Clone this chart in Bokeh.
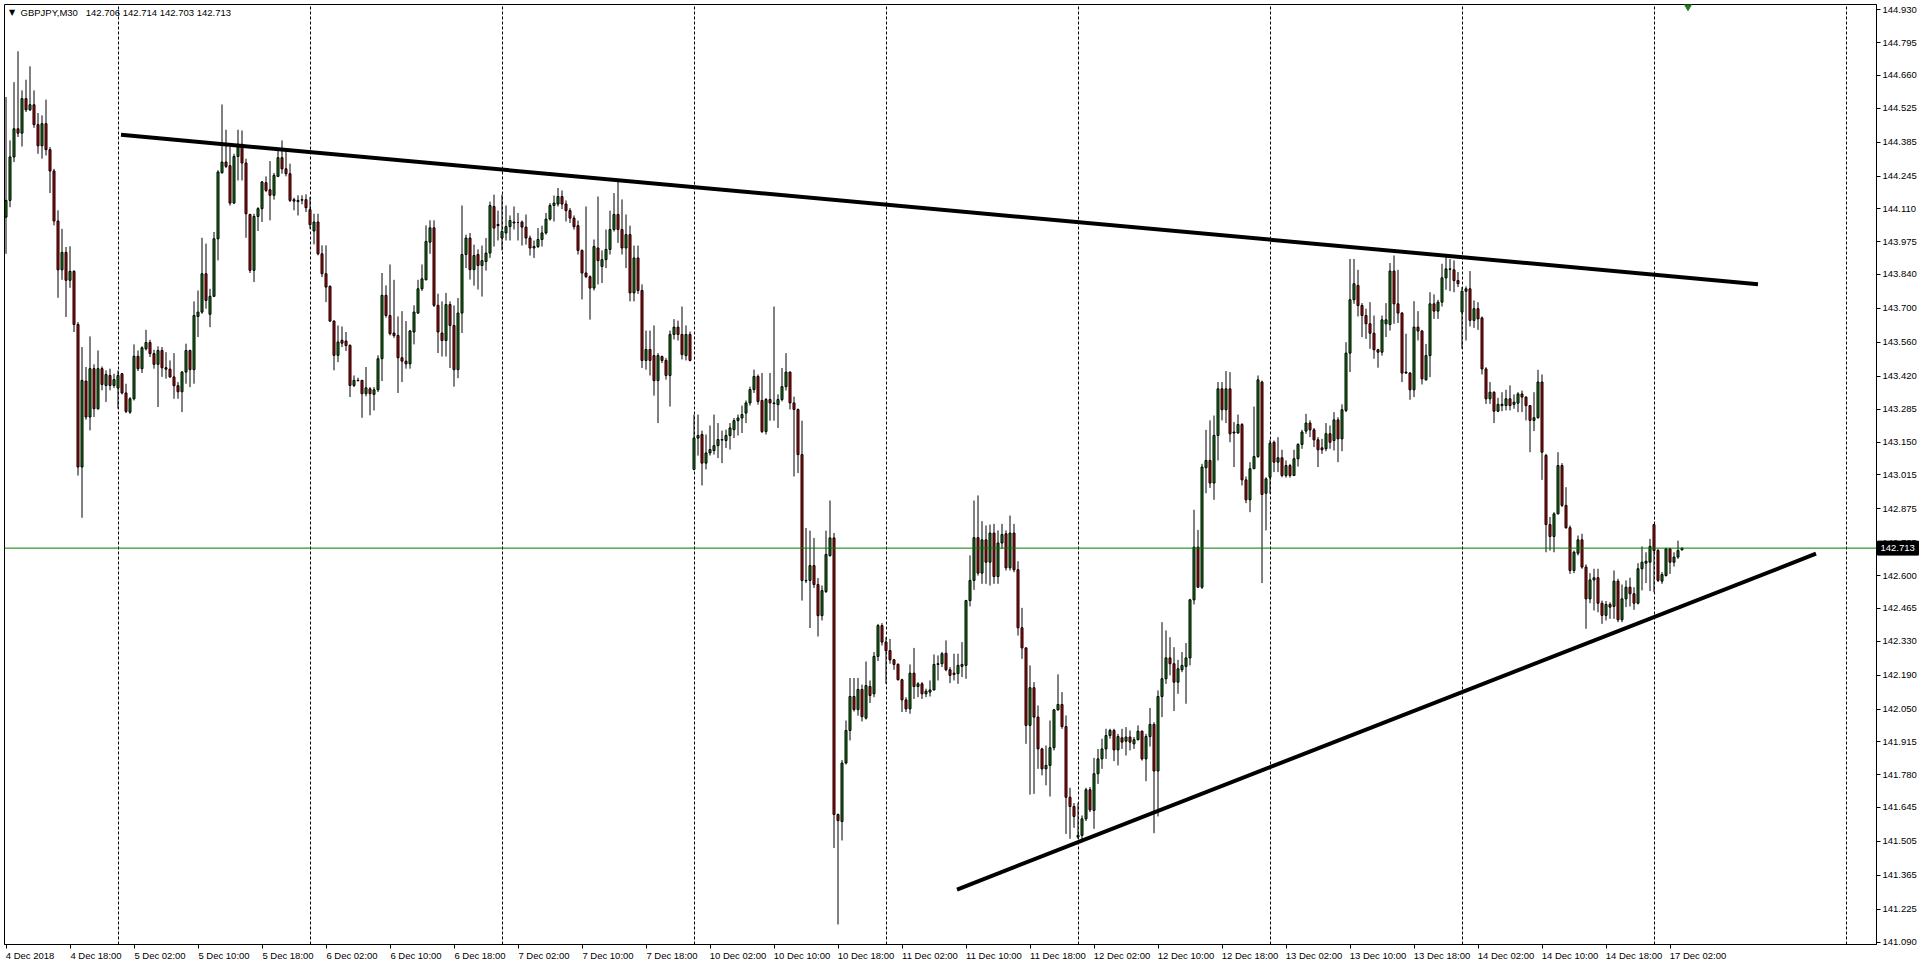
from bokeh.plotting import figure
from bokeh.models import (Range1d, FixedTicker, LinearAxis, Grid, Span, Label,
                          ColumnDataSource, PrintfTickFormatter)
from bokeh.core.properties import value
from bokeh.embed import file_html
from bokeh.resources import INLINE

# ---------------- data ----------------
symbol = "GBPJPY,M30"
last_ohlc = ["142.706", "142.714", "142.703", "142.713"]
current_price = 142.713

# each row: (open, high, low, close) ; one 30-minute bar per row
dec04 = [
    (144.076, 144.571, 143.925, 144.145), (144.145, 144.392, 144.117, 144.324),
    (144.324, 144.632, 144.303, 144.440), (144.440, 144.759, 144.406, 144.422),
    (144.422, 144.598, 144.367, 144.564), (144.564, 144.642, 144.509, 144.518),
    (144.518, 144.697, 144.513, 144.539), (144.539, 144.598, 144.444, 144.457),
    (144.457, 144.505, 144.337, 144.370), (144.370, 144.495, 144.317, 144.461),
    (144.461, 144.560, 144.330, 144.354), (144.354, 144.365, 144.175, 144.266),
    (144.266, 144.275, 144.042, 144.060), (144.060, 144.104, 143.744, 143.859),
    (143.859, 144.028, 143.818, 143.931), (143.931, 143.953, 143.665, 143.816),
    (143.816, 143.956, 143.785, 143.853), (143.853, 143.857, 143.603, 143.634),
    (143.634, 143.644, 143.012, 143.047), (143.047, 143.541, 142.838, 143.404),
    (143.401, 143.459, 143.242, 143.253), (143.253, 143.585, 143.198, 143.452),
    (143.452, 143.470, 143.253, 143.287), (143.287, 143.527, 143.283, 143.452),
    (143.452, 143.461, 143.363, 143.387), (143.383, 143.445, 143.315, 143.428),
    (143.424, 143.452, 143.363, 143.383), (143.383, 143.431, 143.373, 143.407),
]
dec05 = [
    (143.373, 143.445, 143.287, 143.424), (143.431, 143.434, 143.346, 143.352),
    (143.352, 143.390, 143.269, 143.276), (143.273, 143.335, 143.266, 143.328),
    (143.328, 143.552, 143.321, 143.503), (143.503, 143.527, 143.442, 143.452),
    (143.452, 143.544, 143.434, 143.538), (143.534, 143.612, 143.527, 143.560),
    (143.560, 143.571, 143.500, 143.514), (143.514, 143.530, 143.452, 143.470),
    (143.470, 143.544, 143.294, 143.527), (143.527, 143.541, 143.418, 143.456),
    (143.456, 143.520, 143.411, 143.450), (143.450, 143.486, 143.415, 143.418),
    (143.418, 143.516, 143.328, 143.382), (143.382, 143.397, 143.328, 143.357),
    (143.357, 143.442, 143.273, 143.438), (143.438, 143.555, 143.390, 143.527),
    (143.527, 143.530, 143.376, 143.448), (143.448, 143.729, 143.390, 143.671),
    (143.667, 143.774, 143.582, 143.685), (143.685, 143.991, 143.678, 143.843),
    (143.843, 143.967, 143.699, 143.733), (143.676, 143.781, 143.623, 143.750),
    (143.750, 144.015, 143.747, 143.987), (143.987, 144.269, 143.898, 144.262),
    (144.259, 144.540, 144.255, 144.303), (144.303, 144.436, 144.278, 144.285),
    (144.288, 144.365, 144.124, 144.134), (144.134, 144.337, 144.131, 144.326),
    (144.326, 144.436, 144.227, 144.376), (144.376, 144.433, 144.227, 144.299),
    (144.299, 144.317, 143.991, 144.090), (144.087, 144.090, 143.846, 143.857),
    (143.857, 144.090, 143.809, 144.079), (144.079, 144.117, 144.019, 144.111),
    (144.111, 144.225, 144.056, 144.221), (144.218, 144.244, 144.179, 144.186),
    (144.189, 144.307, 144.063, 144.166), (144.166, 144.258, 144.148, 144.248),
    (144.244, 144.354, 144.241, 144.321), (144.321, 144.392, 144.255, 144.275),
    (144.275, 144.351, 144.244, 144.255), (144.255, 144.296, 144.138, 144.145),
    (144.148, 144.156, 144.104, 144.142), (144.145, 144.166, 144.083, 144.140),
    (144.146, 144.166, 144.129, 144.148), (144.148, 144.170, 144.097, 144.115),
]
dec06 = [
    (144.107, 144.159, 144.028, 144.045), (144.019, 144.090, 143.964, 144.056),
    (144.056, 144.090, 143.919, 143.925), (143.925, 143.960, 143.829, 143.843),
    (143.843, 143.960, 143.726, 143.788), (143.791, 143.795, 143.644, 143.648),
    (143.648, 143.651, 143.445, 143.507), (143.507, 143.630, 143.479, 143.562),
    (143.569, 143.626, 143.541, 143.557), (143.566, 143.603, 143.525, 143.547),
    (143.548, 143.552, 143.335, 143.383), (143.383, 143.424, 143.376, 143.404),
    (143.404, 143.415, 143.401, 143.402), (143.404, 143.404, 143.250, 143.349),
    (143.349, 143.459, 143.338, 143.373), (143.369, 143.376, 143.260, 143.349),
    (143.346, 143.376, 143.280, 143.365), (143.365, 143.507, 143.356, 143.493),
    (143.493, 143.846, 143.401, 143.754), (143.754, 143.795, 143.662, 143.671),
    (143.671, 143.881, 143.589, 143.596), (143.599, 143.818, 143.579, 143.588),
    (143.589, 143.667, 143.352, 143.497), (143.497, 143.689, 143.397, 143.483),
    (143.483, 143.648, 143.452, 143.472), (143.472, 143.612, 143.452, 143.607),
    (143.603, 143.713, 143.552, 143.685), (143.681, 143.818, 143.678, 143.781),
    (143.781, 143.881, 143.772, 143.822), (143.818, 144.042, 143.816, 143.976),
    (143.973, 144.063, 143.925, 144.032), (144.032, 144.063, 143.706, 143.713),
    (143.713, 143.761, 143.516, 143.603), (143.599, 143.729, 143.502, 143.568),
    (143.568, 143.764, 143.502, 143.716), (143.716, 143.729, 143.455, 143.630),
    (143.630, 143.712, 143.378, 143.448), (143.448, 143.743, 143.413, 143.681),
    (143.681, 144.124, 143.599, 143.922), (143.922, 144.004, 143.866, 143.990),
    (143.990, 144.011, 143.819, 143.860), (143.860, 143.963, 143.794, 143.918),
    (143.922, 143.943, 143.778, 143.877), (143.877, 143.959, 143.749, 143.897),
    (143.893, 143.990, 143.856, 143.928), (143.928, 144.140, 143.908, 144.124),
    (144.120, 144.169, 143.955, 144.031), (144.046, 144.103, 143.980, 144.041),
]
dec07 = [
    (143.990, 144.169, 143.939, 144.017), (144.011, 144.124, 143.980, 144.037),
    (144.037, 144.083, 143.980, 144.062), (144.052, 144.120, 144.025, 144.056),
    (144.054, 144.093, 143.980, 144.054), (144.056, 144.062, 143.959, 144.035),
    (144.035, 144.087, 143.963, 143.990), (143.990, 144.000, 143.918, 143.949),
    (143.949, 143.980, 143.908, 143.955), (143.955, 144.031, 143.949, 143.984),
    (143.984, 144.041, 143.955, 144.011), (144.011, 144.093, 144.004, 144.068),
    (144.068, 144.134, 144.062, 144.124), (144.124, 144.165, 144.058, 144.134),
    (144.130, 144.196, 144.120, 144.161), (144.161, 144.186, 144.109, 144.130),
    (144.130, 144.145, 144.058, 144.103), (144.103, 144.114, 144.052, 144.072),
    (144.072, 144.083, 144.025, 144.037), (144.041, 144.062, 143.922, 143.939),
    (143.939, 143.943, 143.737, 143.846), (143.846, 144.120, 143.825, 143.831),
    (143.831, 143.836, 143.654, 143.784), (143.784, 143.984, 143.774, 143.955),
    (143.949, 144.161, 143.799, 143.897), (143.873, 143.939, 143.805, 143.901),
    (143.901, 144.025, 143.866, 143.943), (143.943, 144.103, 143.922, 144.025),
    (144.025, 144.175, 144.017, 144.087), (144.087, 144.227, 143.970, 144.025),
    (144.025, 144.149, 143.922, 143.949), (143.949, 144.087, 143.866, 144.004),
    (144.004, 144.041, 143.729, 143.764), (143.764, 143.959, 143.729, 143.908),
    (143.908, 143.959, 143.760, 143.774), (143.774, 143.799, 143.455, 143.486),
    (143.486, 143.609, 143.448, 143.531), (143.531, 143.609, 143.424, 143.486),
    (143.506, 143.630, 143.341, 143.403), (143.403, 143.516, 143.228, 143.506),
    (143.502, 143.506, 143.475, 143.486), (143.486, 143.496, 143.407, 143.424),
    (143.424, 143.609, 143.296, 143.593), (143.593, 143.656, 143.572, 143.623),
    (143.623, 143.650, 143.568, 143.593), (143.593, 143.708, 143.490, 143.510),
    (143.506, 143.630, 143.486, 143.593), (143.593, 143.605, 143.482, 143.486),
]
dec10 = [
    (143.037, 143.263, 143.033, 143.166), (143.166, 143.263, 143.094, 143.177),
    (143.181, 143.197, 142.971, 143.063), (143.063, 143.181, 143.037, 143.105),
    (143.105, 143.218, 143.094, 143.119), (143.115, 143.263, 143.098, 143.135),
    (143.135, 143.228, 143.084, 143.160), (143.160, 143.197, 143.063, 143.158),
    (143.156, 143.201, 143.125, 143.177), (143.177, 143.228, 143.119, 143.208),
    (143.201, 143.249, 143.166, 143.238), (143.238, 143.263, 143.177, 143.249),
    (143.249, 143.300, 143.187, 143.263), (143.269, 143.321, 143.228, 143.311),
    (143.311, 143.378, 143.300, 143.366), (143.366, 143.448, 143.352, 143.420),
    (143.420, 143.428, 143.304, 143.317), (143.321, 143.434, 143.187, 143.193),
    (143.193, 143.331, 143.181, 143.325), (143.325, 143.434, 143.238, 143.311),
    (143.311, 143.708, 143.238, 143.308), (143.304, 143.346, 143.208, 143.325),
    (143.325, 143.455, 143.317, 143.378), (143.378, 143.516, 143.362, 143.438),
    (143.438, 143.440, 143.284, 143.311), (143.311, 143.337, 143.008, 143.284),
    (143.284, 143.288, 143.022, 143.098), (143.098, 143.238, 142.497, 142.580),
    (142.580, 142.796, 142.569, 142.578), (142.580, 142.785, 142.384, 142.641),
    (142.641, 142.755, 142.549, 142.563), (142.563, 142.590, 142.349, 142.435),
    (142.435, 142.559, 142.415, 142.538), (142.534, 142.785, 142.528, 142.687),
    (142.682, 142.909, 142.678, 142.755), (142.755, 142.775, 141.478, 141.616),
    (141.616, 141.620, 141.163, 141.591), (141.587, 141.840, 141.509, 141.828),
    (141.828, 142.003, 141.822, 141.962), (141.962, 142.178, 141.921, 142.102),
    (142.102, 142.178, 142.040, 142.048), (142.048, 142.178, 142.023, 142.131),
    (142.131, 142.151, 141.999, 142.019), (142.013, 142.246, 142.007, 142.147),
    (142.143, 142.168, 142.075, 142.106), (142.113, 142.285, 142.099, 142.267),
    (142.267, 142.401, 142.248, 142.394), (142.394, 142.404, 142.312, 142.326),
]
dec11 = [
    (142.326, 142.346, 142.154, 142.291), (142.291, 142.339, 142.237, 142.253),
    (142.253, 142.257, 142.212, 142.234), (142.234, 142.239, 142.168, 142.171),
    (142.171, 142.175, 142.038, 142.088), (142.088, 142.099, 142.038, 142.051),
    (142.051, 142.234, 142.031, 142.198), (142.198, 142.302, 142.092, 142.143),
    (142.143, 142.161, 142.099, 142.154), (142.154, 142.161, 142.092, 142.113),
    (142.113, 142.134, 142.099, 142.124), (142.120, 142.168, 142.102, 142.129),
    (142.129, 142.275, 142.127, 142.234), (142.234, 142.271, 142.168, 142.237),
    (142.237, 142.285, 142.223, 142.278), (142.280, 142.333, 142.206, 142.212),
    (142.212, 142.223, 142.157, 142.189), (142.198, 142.278, 142.168, 142.193),
    (142.196, 142.278, 142.154, 142.230), (142.226, 142.326, 142.182, 142.234),
    (142.230, 142.500, 142.175, 142.497), (142.497, 142.683, 142.473, 142.580),
    (142.580, 142.909, 142.541, 142.756), (142.756, 142.930, 142.600, 142.610),
    (142.610, 142.824, 142.566, 142.747), (142.747, 142.806, 142.566, 142.655),
    (142.655, 142.810, 142.559, 142.775), (142.775, 142.813, 142.566, 142.596),
    (142.596, 142.786, 142.566, 142.734), (142.734, 142.813, 142.710, 142.769),
    (142.772, 142.786, 142.621, 142.632), (142.632, 142.847, 142.621, 142.775),
    (142.775, 142.813, 142.614, 142.624), (142.624, 142.659, 142.353, 142.385),
    (142.385, 142.467, 142.257, 142.302), (142.302, 142.305, 141.907, 141.983),
    (141.983, 142.230, 141.698, 142.138), (142.138, 142.161, 141.701, 142.017),
    (142.017, 142.065, 141.804, 141.886), (141.886, 141.891, 141.777, 141.804),
    (141.804, 141.900, 141.736, 141.818), (141.818, 142.003, 141.690, 141.891),
    (141.891, 142.051, 141.880, 142.047), (142.047, 142.193, 142.044, 142.069),
    (142.069, 142.120, 141.969, 141.978), (141.978, 142.024, 141.536, 141.687),
    (141.687, 141.726, 141.516, 141.649), (141.649, 141.663, 141.561, 141.608),
]
dec12 = [
    (141.523, 141.663, 141.516, 141.530), (141.530, 141.612, 141.509, 141.598),
    (141.598, 141.726, 141.589, 141.718), (141.718, 141.729, 141.626, 141.635),
    (141.633, 141.849, 141.557, 141.784), (141.784, 141.886, 141.742, 141.845),
    (141.845, 141.928, 141.804, 141.886), (141.886, 141.969, 141.845, 141.941),
    (141.941, 141.969, 141.928, 141.962), (141.962, 141.969, 141.836, 141.882),
    (141.882, 141.948, 141.818, 141.937), (141.932, 141.969, 141.886, 141.914),
    (141.918, 141.976, 141.859, 141.935), (141.935, 141.962, 141.880, 141.914),
    (141.907, 141.935, 141.886, 141.924), (141.924, 141.983, 141.921, 141.959),
    (141.959, 141.962, 141.838, 141.845), (141.845, 141.948, 141.753, 141.937),
    (141.937, 142.055, 141.896, 141.987), (141.987, 141.996, 141.539, 141.795),
    (141.795, 142.127, 141.608, 142.102), (142.102, 142.408, 142.017, 142.175),
    (142.175, 142.374, 142.154, 142.261), (142.261, 142.346, 142.189, 142.237),
    (142.237, 142.305, 142.042, 142.161), (142.161, 142.253, 142.113, 142.216),
    (142.212, 142.285, 142.202, 142.230), (142.226, 142.322, 142.072, 142.261),
    (142.261, 142.504, 142.230, 142.500), (142.500, 142.871, 142.481, 142.717),
    (142.717, 142.788, 142.550, 142.552), (142.552, 143.060, 142.545, 143.047),
    (143.044, 143.200, 142.939, 143.074), (143.074, 143.239, 142.961, 142.981),
    (142.981, 143.259, 142.912, 143.177), (143.177, 143.397, 143.074, 143.369),
    (143.369, 143.397, 143.239, 143.283), (143.283, 143.442, 143.228, 143.369),
    (143.369, 143.438, 143.149, 143.184), (143.191, 143.232, 143.047, 143.187),
    (143.187, 143.263, 143.184, 143.222), (143.222, 143.228, 142.971, 142.994),
    (142.994, 143.008, 142.898, 142.912), (142.912, 143.067, 142.861, 143.040),
    (143.040, 143.296, 143.040, 143.090), (143.090, 143.424, 143.085, 143.406),
    (143.397, 143.403, 142.569, 142.934), (142.939, 143.005, 142.786, 142.998),
]
dec13 = [
    (143.005, 143.159, 142.937, 143.145), (143.149, 143.156, 143.026, 143.067),
    (143.067, 143.170, 143.026, 143.085), (143.085, 143.118, 143.005, 143.012),
    (143.012, 143.074, 143.003, 143.053), (143.053, 143.060, 143.003, 143.012),
    (143.012, 143.118, 143.012, 143.081), (143.081, 143.145, 143.049, 143.140),
    (143.140, 143.200, 143.122, 143.191), (143.195, 143.266, 143.184, 143.228),
    (143.228, 143.239, 143.170, 143.200), (143.200, 143.208, 143.129, 143.159),
    (143.159, 143.170, 143.047, 143.118), (143.126, 143.163, 143.101, 143.118),
    (143.122, 143.228, 143.112, 143.184), (143.184, 143.218, 143.122, 143.149),
    (143.156, 143.273, 143.115, 143.241), (143.241, 143.252, 143.067, 143.163),
    (143.163, 143.305, 143.112, 143.283), (143.280, 143.561, 143.273, 143.516),
    (143.516, 143.904, 143.438, 143.736), (143.736, 143.904, 143.719, 143.802),
    (143.795, 143.859, 143.667, 143.712), (143.712, 143.722, 143.582, 143.671),
    (143.671, 143.699, 143.575, 143.637), (143.637, 143.726, 143.534, 143.598),
    (143.598, 143.671, 143.493, 143.530), (143.530, 143.534, 143.456, 143.520),
    (143.520, 143.671, 143.506, 143.653), (143.637, 143.722, 143.582, 143.653),
    (143.634, 143.887, 143.609, 143.854), (143.854, 143.918, 143.637, 143.719),
    (143.719, 143.859, 143.640, 143.681), (143.681, 143.685, 143.397, 143.434),
    (143.438, 143.596, 143.431, 143.434), (143.434, 143.438, 143.324, 143.365),
    (143.365, 143.730, 143.335, 143.623), (143.623, 143.689, 143.568, 143.607),
    (143.607, 143.612, 143.387, 143.410), (143.406, 143.554, 143.403, 143.506),
    (143.506, 143.767, 143.417, 143.719), (143.719, 143.758, 143.657, 143.689),
    (143.689, 143.736, 143.657, 143.726), (143.726, 143.884, 143.708, 143.826),
    (143.826, 143.918, 143.777, 143.863), (143.861, 143.904, 143.771, 143.863),
    (143.859, 143.898, 143.767, 143.815), (143.815, 143.850, 143.788, 143.802),
]
dec14 = [
    (143.685, 143.788, 143.534, 143.771), (143.771, 143.791, 143.568, 143.781),
    (143.781, 143.854, 143.626, 143.651), (143.651, 143.733, 143.620, 143.699),
    (143.699, 143.726, 143.612, 143.657), (143.661, 143.667, 143.428, 143.451),
    (143.451, 143.458, 143.307, 143.328), (143.328, 143.397, 143.307, 143.355),
    (143.355, 143.359, 143.228, 143.277), (143.277, 143.332, 143.273, 143.305),
    (143.305, 143.355, 143.277, 143.300), (143.300, 143.365, 143.280, 143.328),
    (143.328, 143.383, 143.280, 143.300), (143.305, 143.346, 143.287, 143.314),
    (143.310, 143.355, 143.273, 143.348), (143.348, 143.362, 143.273, 143.335),
    (143.335, 143.338, 143.239, 143.300), (143.300, 143.300, 143.108, 143.239),
    (143.239, 143.355, 143.195, 143.250), (143.250, 143.447, 143.246, 143.397),
    (143.397, 143.428, 142.994, 143.108), (143.095, 143.101, 142.696, 142.810),
    (142.810, 142.841, 142.703, 142.761), (142.761, 142.861, 142.696, 142.854),
    (142.854, 143.108, 142.852, 143.053), (143.053, 143.063, 142.882, 142.889),
    (142.889, 142.964, 142.793, 142.797), (142.797, 142.806, 142.607, 142.621),
    (142.621, 142.703, 142.610, 142.696), (142.692, 142.765, 142.683, 142.747),
    (142.747, 142.772, 142.628, 142.635), (142.635, 142.646, 142.381, 142.504),
    (142.504, 142.610, 142.486, 142.582), (142.582, 142.628, 142.456, 142.591),
    (142.591, 142.628, 142.449, 142.486), (142.486, 142.497, 142.401, 142.436),
    (142.436, 142.495, 142.415, 142.481), (142.481, 142.490, 142.422, 142.470),
    (142.473, 142.621, 142.422, 142.577), (142.577, 142.587, 142.408, 142.418),
    (142.418, 142.563, 142.408, 142.504), (142.504, 142.580, 142.470, 142.552),
    (142.552, 142.591, 142.473, 142.525), (142.525, 142.552, 142.459, 142.486),
    (142.486, 142.651, 142.481, 142.628), (142.628, 142.720, 142.539, 142.655),
    (142.651, 142.696, 142.569, 142.659), (142.655, 142.751, 142.536, 142.720),
]
dec17 = [
    (142.810, 142.813, 142.531, 142.703), (142.703, 142.710, 142.573, 142.580),
    (142.577, 142.614, 142.566, 142.604), (142.600, 142.714, 142.596, 142.710),
    (142.710, 142.714, 142.607, 142.655), (142.655, 142.696, 142.637, 142.676),
    (142.676, 142.744, 142.669, 142.703), (142.706, 142.714, 142.703, 142.713),
]

# bottom axis: bar index of each labelled bar and its text
time_ticks = [0] + list(range(16, 417, 16))
time_labels = [
    "4 Dec 2018", "4 Dec 18:00", "5 Dec 02:00", "5 Dec 10:00", "5 Dec 18:00",
    "6 Dec 02:00", "6 Dec 10:00", "6 Dec 18:00", "7 Dec 02:00", "7 Dec 10:00",
    "7 Dec 18:00", "10 Dec 02:00", "10 Dec 10:00", "10 Dec 18:00", "11 Dec 02:00",
    "11 Dec 10:00", "11 Dec 18:00", "12 Dec 02:00", "12 Dec 10:00", "12 Dec 18:00",
    "13 Dec 02:00", "13 Dec 10:00", "13 Dec 18:00", "14 Dec 02:00", "14 Dec 10:00",
    "14 Dec 18:00", "17 Dec 02:00",
]
# bar index where each new trading day starts (dashed separators)
day_starts = [28, 76, 124, 172, 220, 268, 316, 364, 412, 460]

# right price scale labels
price_ticks = [144.930, 144.795, 144.660, 144.525, 144.385, 144.245, 144.110,
               143.975, 143.840, 143.700, 143.560, 143.420, 143.285, 143.150,
               143.015, 142.875, 142.735, 142.600, 142.465, 142.330, 142.190,
               142.050, 141.915, 141.780, 141.645, 141.505, 141.365, 141.225,
               141.090]

# hand-drawn trend lines (bar index, price)
upper_trend_x = [28.75, 438.0]
upper_trend_y = [144.415, 143.800]
lower_trend_x = [237.75, 452.5]
lower_trend_y = [141.307, 142.690]

# ---------------- build ----------------
rows = [r for day in (dec04, dec05, dec06, dec07, dec10, dec11, dec12, dec13, dec14, dec17) for r in day]
opens = [r[0] for r in rows]
highs = [r[1] for r in rows]
lows = [r[2] for r in rows]
closes = [r[3] for r in rows]
xs = list(range(len(rows)))

BULL, BEAR = "#0B8A0B", "#E00000"
src = ColumnDataSource(dict(
    x=xs, high=highs, low=lows,
    top=[max(o, c) for o, c in zip(opens, closes)],
    bottom=[min(o, c) for o, c in zip(opens, closes)],
    color=[BULL if c >= o else BEAR for o, c in zip(opens, closes)],
))

FW, FH = 1872, 940
PX_PER_BAR = 4.0
X0 = -0.375
X1 = X0 + FW / PX_PER_BAR
Y0, Y1 = 141.0806, 144.9518
FONT = "Liberation Sans"
FS = "9.5px"

p = figure(frame_width=FW, frame_height=FH,
           x_range=Range1d(X0, X1), y_range=Range1d(Y0, Y1),
           x_axis_location=None, y_axis_location="right",
           toolbar_location=None, output_backend="svg",
           min_border_left=4, min_border_top=4, min_border_right=42, min_border_bottom=0)
p.background_fill_color = "white"
p.border_fill_color = "white"
p.outline_line_color = "black"
p.outline_line_width = 1
for g in p.grid:
    g.visible = False

# day separators
sep = Grid(dimension=0, ticker=FixedTicker(ticks=day_starts),
           grid_line_color="black", grid_line_dash="3 2", grid_line_width=1)
p.add_layout(sep)

# right axis
ya = p.yaxis[0]
ya.ticker = FixedTicker(ticks=price_ticks)
ya.formatter = PrintfTickFormatter(format="%.3f")
ya.major_tick_in = 0
ya.major_tick_out = 4
ya.minor_tick_line_color = None
ya.axis_line_color = "black"
ya.major_tick_line_color = "black"
ya.major_label_standoff = 2
ya.major_label_text_font = FONT
ya.major_label_text_font_size = FS
ya.major_label_text_color = "black"

# bottom axis: tick marks only
xa = LinearAxis(ticker=FixedTicker(ticks=time_ticks),
                major_tick_in=0, major_tick_out=4, minor_tick_line_color=None,
                axis_line_color="black", major_tick_line_color="black",
                major_label_text_color=None, major_label_text_font_size="1px",
                major_label_standoff=0)
p.add_layout(xa, "below")

# bottom axis: the labels, left-aligned at their tick (MT4 style)
CW = {" ": 0.278, ":": 0.278, "D": 0.722, "e": 0.556, "c": 0.5}
def text_px(s):
    return sum(CW.get(ch, 0.556) for ch in s) * 9.5
label_pos = [round((t + (text_px(s) / 2.0) / PX_PER_BAR) * 4) / 4.0
             for t, s in zip(time_ticks, time_labels)]
xb = LinearAxis(ticker=FixedTicker(ticks=label_pos),
                major_label_overrides={k: s for k, s in zip(label_pos, time_labels)},
                major_tick_in=0, major_tick_out=0, minor_tick_line_color=None,
                axis_line_color=None, major_tick_line_color=None,
                major_label_standoff=1, major_label_text_font=FONT,
                major_label_text_font_size=FS, major_label_text_color="black")
p.add_layout(xb, "below")

# candles
p.segment(x0="x", y0="low", x1="x", y1="high", source=src, line_color="black", line_width=1)
p.vbar(x="x", width=0.5, top="top", bottom="bottom", source=src,
       fill_color="color", line_color="black", line_width=1)

# current bid line
p.add_layout(Span(location=current_price, dimension="width", line_color="#007A00", line_width=1))

# trend lines
p.line(upper_trend_x, upper_trend_y, line_color="black", line_width=4)
p.line(lower_trend_x, lower_trend_y, line_color="black", line_width=4)

# chart-shift marker at the top edge
p.scatter([420.5], [Y1 - 0.004], marker="inverted_triangle", size=9,
          fill_color="#1E7B1E", line_color="#1E7B1E")

# title in the top-left corner
p.add_layout(Label(x=1.5, y=144.917, text="\u25BC", text_font="DejaVu Sans",
                   text_font_size="8px", text_color="black",
                   text_baseline="middle", text_align="center"))
p.add_layout(Label(x=3.625, y=144.9395,
                   text=symbol + "\u00a0\u00a0\u00a0" + " ".join(last_ohlc),
                   text_font=FONT, text_font_size=FS, text_color="black",
                   text_baseline="top"))

# price tag on the right scale (drawn at overlay level, over the axis)
tag_x = X1 + 21.5 / PX_PER_BAR
r1 = p.rect(x=[tag_x], y=[current_price], width=41, height=14,
            width_units="screen", height_units="screen",
            fill_color="black", line_color="black")
r2 = p.text(x=[X1 + 4.0 / PX_PER_BAR], y=[current_price], text=["%.3f" % current_price],
            text_font=value(FONT), text_font_size=value(FS), text_color="white",
            text_baseline="middle", text_align="left")
r1.level = "overlay"
r2.level = "overlay"

open("out.html", "w").write(file_html(p, INLINE))
